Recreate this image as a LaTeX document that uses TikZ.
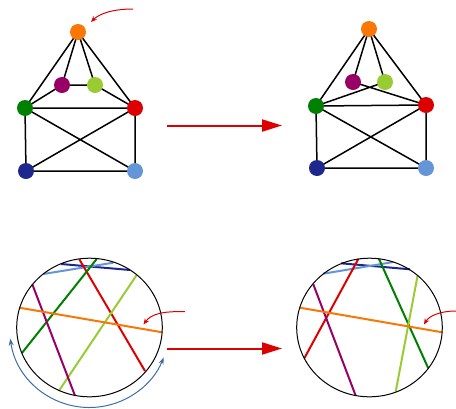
\documentclass[tikz,border=0pt]{standalone}
\usetikzlibrary{arrows.meta}
\definecolor{corange}{RGB}{250,118,5}
\definecolor{cpurple}{RGB}{153,0,102}
\definecolor{clgreen}{RGB}{153,204,51}
\definecolor{cgreen}{RGB}{0,128,0}
\definecolor{cred}{RGB}{221,0,0}
\definecolor{cdblue}{RGB}{30,40,140}
\definecolor{clblue}{RGB}{100,150,215}
\definecolor{csteel}{RGB}{60,110,165}
\begin{document}
\begin{tikzpicture}[x=1pt,y=-1pt,
  vtx/.style={circle,fill=#1,minimum size=16pt,inner sep=0pt},
  edge/.style={black,line width=1.5pt},
  chord/.style={#1,line width=2pt},
  bigarrow/.style={cred,line width=2pt,-{Triangle[length=20pt,width=12pt]}},
  curvearrow/.style={cred,line width=1pt,-{Stealth[length=6pt,width=5pt]}}]
\useasboundingbox (0,0) rectangle (456,408);
% ---------- top left graph ----------
\coordinate (o1) at (78,32);
\coordinate (p1) at (62,85);
\coordinate (l1) at (95,85);
\coordinate (g1) at (25,108);
\coordinate (r1) at (135,108);
\coordinate (d1) at (26,171);
\coordinate (b1) at (135,171);
\draw[edge] (o1) -- (g1) (o1) -- (p1) (o1) -- (l1) (o1) -- (r1)
  (p1) -- (l1) (p1) -- (g1) (l1) -- (r1) (g1) -- (r1)
  (g1) -- (d1) (g1) -- (b1) (r1) -- (d1) (r1) -- (b1) (d1) -- (b1);
\node[vtx=corange] (no1) at (o1) {};
\node[vtx=cpurple] (np1) at (p1) {};
\node[vtx=clgreen] (nl1) at (l1) {};
\node[vtx=cgreen] (ng1) at (g1) {};
\node[vtx=cred] (nr1) at (r1) {};
\node[vtx=cdblue] (nd1) at (d1) {};
\node[vtx=clblue] (nb1) at (b1) {};
\coordinate (ta1) at (133,9);
\coordinate (tb1) at (91,22);
\draw[curvearrow] (ta1) .. controls (112,9) and (99,14) .. (tb1);
% ---------- top right graph ----------
\coordinate (o2) at (369,29);
\coordinate (p2) at (353,82);
\coordinate (l2) at (385,82);
\coordinate (g2) at (316,106);
\coordinate (r2) at (426,105);
\coordinate (d2) at (317,168);
\coordinate (b2) at (426,168);
\draw[edge] (o2) -- (g2) (o2) -- (p2) (o2) -- (l2) (o2) -- (r2)
  (p2) -- (r2) (l2) -- (g2) (g2) -- (r2)
  (g2) -- (d2) (g2) -- (b2) (r2) -- (d2) (r2) -- (b2) (d2) -- (b2);
\node[vtx=corange] (no2) at (o2) {};
\node[vtx=cpurple] (np2) at (p2) {};
\node[vtx=clgreen] (nl2) at (l2) {};
\node[vtx=cgreen] (ng2) at (g2) {};
\node[vtx=cred] (nr2) at (r2) {};
\node[vtx=cdblue] (nd2) at (d2) {};
\node[vtx=clblue] (nb2) at (b2) {};
% ---------- main arrows ----------
\coordinate (ma1) at (167,125.5);
\coordinate (mb1) at (282,125.5);
\draw[bigarrow] (ma1) -- (mb1);
\coordinate (ma2) at (167,348.5);
\coordinate (mb2) at (282,348.5);
\draw[bigarrow] (ma2) -- (mb2);
% ---------- bottom left circle ----------
\coordinate (c1) at (89.5,327.5);
\draw[chord=cdblue] (61,264) -- (130,270);
\draw[chord=clblue] (43.3,274) -- (113.3,262.7);
\draw[chord=cred] (79.3,259.3) -- (145,371);
\draw[chord=cgreen] (96.7,259) -- (21.7,353.3);
\draw[chord=clgreen] (136.7,275) -- (59,390.7);
\draw[chord=cpurple] (32.3,284.3) -- (75,395.7);
\draw[chord=corange] (19.3,307.7) -- (162.3,332.3);
\draw[black,line width=1pt] (c1) ellipse [x radius=72.8, y radius=69.3];
\coordinate (ba1) at (185,311.7);
\coordinate (bb1) at (143.5,324.5);
\draw[curvearrow] (ba1) .. controls (163,311) and (151,314) .. (bb1);
\draw[csteel,line width=1pt,{Stealth[length=7pt,width=5pt]}-{Stealth[length=7pt,width=5pt]}]
  ([shift={(172:80)}]c1) arc[start angle=172,end angle=22,radius=80];
% ---------- bottom right circle ----------
\coordinate (c2) at (369.5,327.5);
\draw[chord=cdblue] (341,263.3) -- (410,269.3);
\draw[chord=clblue] (323.3,273.7) -- (393.3,262);
\draw[chord=cred] (358.3,259) -- (304.3,358.3);
\draw[chord=cgreen] (379,259) -- (428.3,368.3);
\draw[chord=clgreen] (417.7,275) -- (395.7,391.7);
\draw[chord=cpurple] (313.3,284.3) -- (355.7,395.7);
\draw[chord=corange] (300,307.7) -- (442.3,332.3);
\draw[black,line width=1pt] (c2) ellipse [x radius=72.8, y radius=69.3];
\coordinate (ba2) at (456,311);
\coordinate (bb2) at (424,324.5);
\draw[curvearrow] (ba2) .. controls (440,311) and (429,316) .. (bb2);
\end{tikzpicture}
\end{document}
